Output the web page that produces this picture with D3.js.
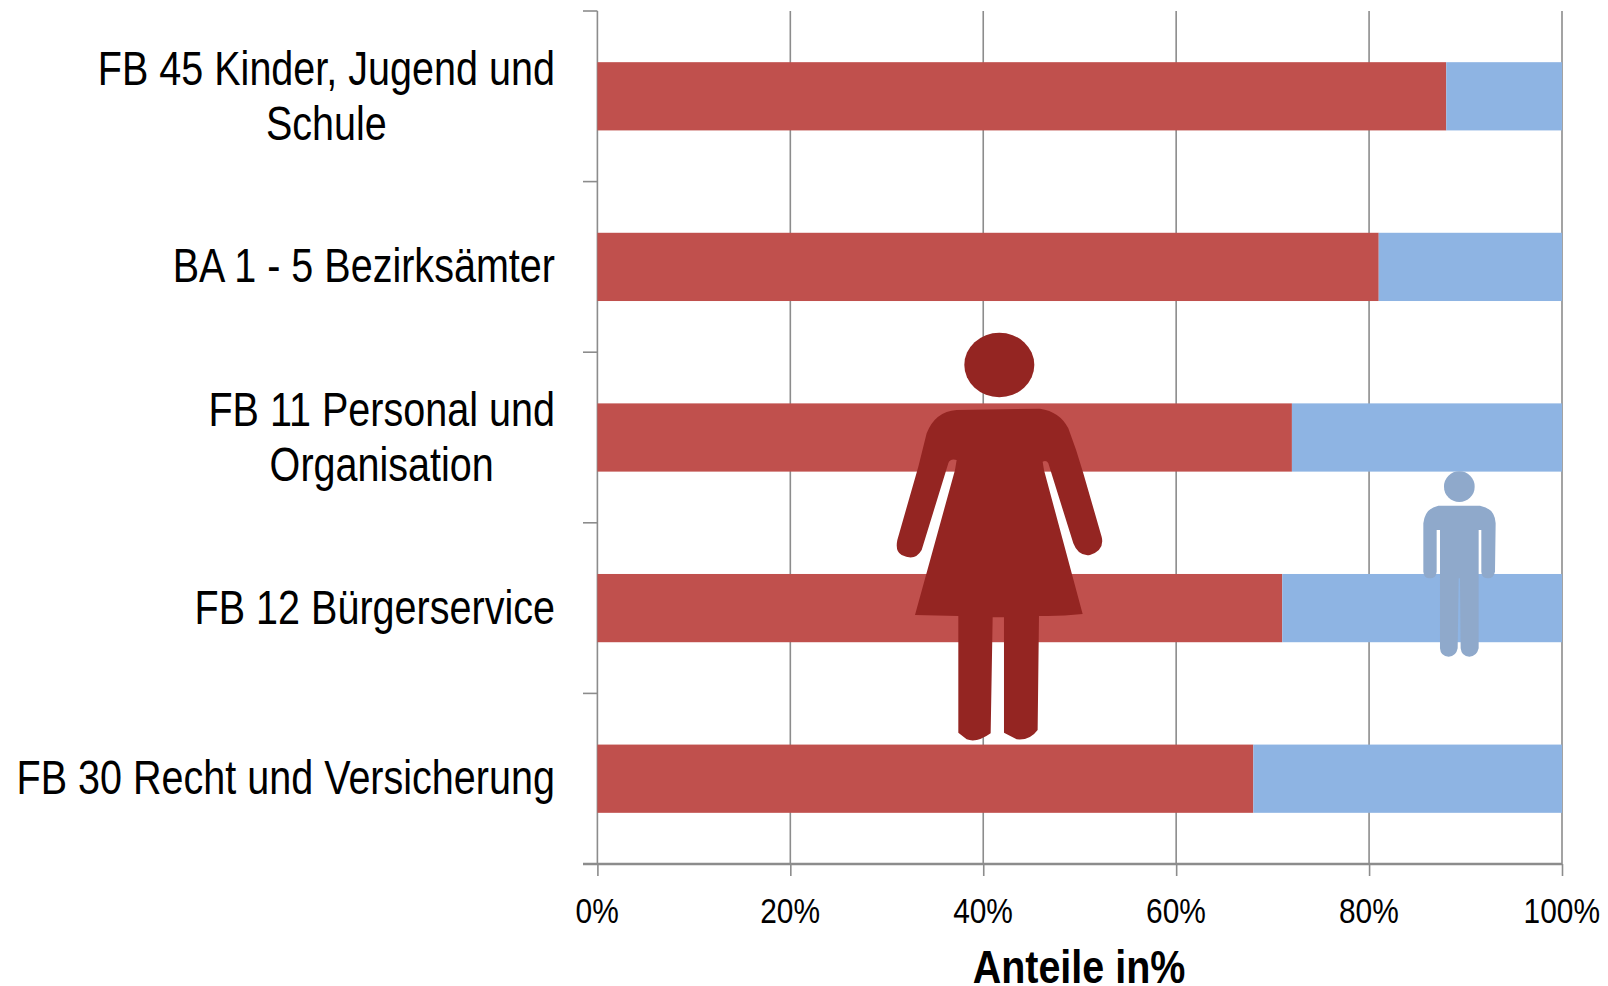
<!DOCTYPE html>
<html><head><meta charset="utf-8">
<script src="https://cdn.jsdelivr.net/npm/d3@7/dist/d3.min.js"></script>
<style>html,body{margin:0;padding:0;background:#fff}svg{display:block}text{font-family:"Liberation Sans",Arial,sans-serif;fill:#000}</style>
</head><body><svg id="c" width="1608" height="986"></svg>
<script>
const categories = ["FB 45 Kinder, Jugend und Schule","BA 1 - 5 Bezirksämter","FB 11 Personal und Organisation","FB 12 Bürgerservice","FB 30 Recht und Versicherung"];
const categoryLines = [["FB 45 Kinder, Jugend und","Schule"],["BA 1 - 5 Bezirksämter"],["FB 11 Personal und","Organisation"],["FB 12 Bürgerservice"],["FB 30 Recht und Versicherung"]];
const women = [88,81,72,71,68];
const men = [12,19,28,29,32];
const xTicks = [0,20,40,60,80,100];
const axisTitle = "Anteile in%";
const womanIcon = "M290 270L540 266Q600 275 625 325Q650 390 670 460L725 650Q735 690 690 705Q655 710 640 670L565 430Q560 420 548 425L552 450L668 882Q600 890 537 888L533 1230Q510 1262 470 1258L432 1238L432 892L398 892L392 1240Q350 1270 320 1258L295 1238L295 888L165 885L285 450L290 420Q270 415 265 430L185 690Q165 725 125 705Q105 695 112 660L175 440L200 340Q225 275 290 270Z";
const manIcon = "M175 167L300 167Q345 175 347 220L345 365Q340 385 325 385Q305 385 304 365L304 240L296 240L296 595Q290 620 268 620Q245 620 242 595L240 385L236 385L233 595Q228 620 206 620Q182 620 180 595L180 240L170 240L170 365Q168 385 150 385Q132 385 130 365L130 220Q135 175 175 167Z";

const svg = d3.select("#c");
const grey = "#8c8c8c";
const x = d3.scaleLinear().domain([0,100]).range([597.4,1562]);
const y = d3.scaleBand().domain(categories).range([11,864]).paddingInner(0.6).paddingOuter(0.3);
const bottom = y.range()[1], top_ = y.range()[0];

// x axis with gridlines
const xa = svg.append("g").attr("transform",`translate(0,${bottom})`)
  .call(d3.axisBottom(x).tickValues(xTicks).tickFormat(d=>d+"%").tickSize(12).tickPadding(0));
xa.select(".domain").remove();
xa.selectAll("line").attr("stroke",grey).attr("stroke-width",1.6);
xa.selectAll("text").attr("y",0).attr("dy",null).attr("font-size",36).attr("text-anchor","middle")
  .attr("transform","translate(-0.7,58.7) scale(.83,1)");
svg.append("g").selectAll("line").data(xTicks).join("line")
  .attr("x1",d=>x(d)).attr("x2",d=>x(d)).attr("y1",top_).attr("y2",bottom)
  .attr("stroke",grey).attr("stroke-width",1.6);

// category axis line and ticks between bands
const step = y.step();
svg.append("g").selectAll("line").data(d3.range(categories.length+1)).join("line")
  .attr("x1",583).attr("x2",x(0)).attr("y1",i=>top_+i*step).attr("y2",i=>top_+i*step)
  .attr("stroke",grey).attr("stroke-width",1.6);
svg.append("line").attr("x1",583).attr("x2",x(100)).attr("y1",bottom).attr("y2",bottom).attr("stroke",grey).attr("stroke-width",2.6);

// bars
svg.append("g").selectAll("rect").data(categories).join("rect")
  .attr("x",x(0)).attr("y",d=>y(d)).attr("height",y.bandwidth())
  .attr("width",(d,i)=>x(women[i])-x(0)).attr("fill","#C0504D");
svg.append("g").selectAll("rect").data(categories).join("rect")
  .attr("x",(d,i)=>x(women[i])).attr("y",d=>y(d)).attr("height",y.bandwidth())
  .attr("width",(d,i)=>x(women[i]+men[i])-x(women[i])).attr("fill","#8EB4E3");

// category labels
const labelScale = 0.807, rightEdge = 555;
categories.forEach((c,i)=>{
  const g = svg.append("g");
  const lines = categoryLines[i];
  const mid = y(c)+y.bandwidth()/2;
  const ts = lines.map((l,j)=>g.append("text").text(l).attr("font-size",49).attr("text-anchor","middle"));
  const w = d3.max(ts,t=>t.node().getComputedTextLength())*labelScale;
  ts.forEach((t,j)=>{
    const by = lines.length===2 ? mid-11.5+j*55 : mid+15.5;
    t.attr("transform",`translate(${rightEdge-w/2},${by}) scale(${labelScale},1)`);
  });
});

// axis title
svg.append("text").text(axisTitle).attr("font-size",47).attr("font-weight","bold").attr("text-anchor","middle")
  .attr("transform",`translate(1079,982.5) scale(.84,1)`);

// pictograms
const w = svg.append("g").attr("transform","translate(860,320) scale(0.3333)").attr("fill","#942522");
w.append("ellipse").attr("cx",418).attr("cy",135).attr("rx",105).attr("ry",97);
w.append("path").attr("d",womanIcon);
const m = svg.append("g").attr("transform","translate(1380,450) scale(0.3333)").attr("fill","#8FA9CB");
m.append("circle").attr("cx",238).attr("cy",110).attr("r",46);
m.append("path").attr("d",manIcon);
</script></body></html>
